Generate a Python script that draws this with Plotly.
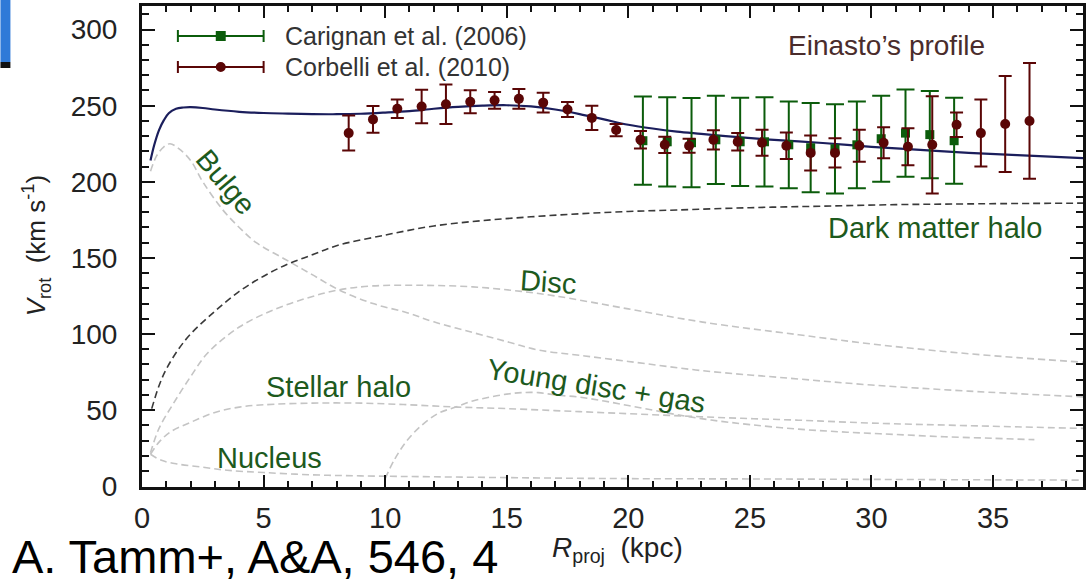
import plotly.graph_objects as go

# ---------------- data ----------------
# Einasto total rotation curve
R_model = [0.35, 0.5, 0.7, 0.9, 1.1, 1.4, 1.7, 2.0, 2.5, 3.0, 4.0, 5.0, 6.0, 7.0, 8.0, 9.0, 10.0, 11.0,
           12.0, 13.0, 14.0, 15.0, 16.0, 17.0, 18.0, 19.0, 20.0, 21.0, 22.0, 23.0, 24.0, 26.0, 28.0,
           30.0, 32.0, 34.0, 36.0, 38.7]
V_model = [214, 224, 234, 240.5, 245, 248, 248.8, 249, 248.5, 247.5, 246, 245.2, 244.8, 244.5, 244.4,
           244.7, 245.5, 246.5, 248, 249.2, 250, 250.3, 249.5, 247.5, 244.5, 241, 237.5, 235, 233,
           231.5, 230, 227.5, 225.5, 223, 221, 219, 217.5, 215.5]

# components
R_dm = [0.4, 0.7, 1.0, 1.5, 2.0, 3.0, 4.0, 5.0, 6.0, 7.0, 8.0, 10.0, 12.0, 14.0, 16.0, 18.0, 20.0, 22.0,
        25.0, 28.0, 31.0, 34.0, 38.7]
V_dm = [51, 66, 77, 90, 100, 115, 128, 138, 146, 152, 158, 165, 171, 174.5, 177, 179, 180.5, 181.5,
        183, 184, 185, 185.5, 186]

R_bulge = [0.35, 0.6, 0.9, 1.15, 1.5, 2.0, 2.5, 3.3, 4.0, 4.7, 5.9, 7.0, 8.1, 9.5, 10.9, 12.0, 13.6,
           15.0, 16.3, 18.0, 20.0, 23.0, 26.6, 30.0, 34.0, 38.7]
V_bulge = [207, 217, 223, 225, 222, 214, 200, 182, 170, 160, 149, 139, 129, 120, 114, 108, 101, 95,
           89.5, 86, 82, 76, 71, 66.5, 62.5, 58.7]

R_disc = [0.35, 0.7, 1.3, 2.0, 2.7, 4.0, 5.4, 6.8, 8.1, 9.5, 11.5, 13.6, 15.6, 17.0, 20.0, 23.0, 27.0,
          30.0, 33.0, 36.0, 38.7]
V_disc = [22, 38, 54.6, 72, 87.5, 104.6, 115.8, 123.7, 129, 131.6, 132, 131, 128, 125, 116.5, 108,
          99.5, 93.5, 88.5, 84.5, 81.5]

R_shalo = [0.35, 0.7, 1.2, 2.0, 3.0, 4.0, 5.0, 7.0, 9.0, 11.0, 13.0, 15.0, 18.0, 21.0, 24.0, 27.0,
           30.0, 34.0, 38.7]
V_shalo = [21, 29, 36, 42, 48.5, 52, 53.5, 54.6, 54.6, 53.5, 52, 51, 49, 47, 45, 43.4, 41.5, 39.8, 38]

R_young = [10.0, 10.4, 10.9, 11.5, 12.2, 12.9, 13.6, 14.3, 15.0, 15.6, 16.3, 17.0, 18.0, 19.0, 20.0,
           21.0, 22.0, 23.4, 25.0, 27.0, 29.0, 31.0, 33.0, 35.0, 36.7]
V_young = [5, 18, 30, 40, 48, 52, 56, 58.5, 60.5, 61.5, 61.5, 60, 58.5, 56, 53, 50, 47, 43.5, 40.5,
           37.5, 35.5, 34, 32.5, 31.5, 30.6]

R_nucleus = [0.35, 0.8, 1.5, 2.5, 3.5, 5.0, 7.0, 9.0, 12.0, 16.0, 20.0, 25.0, 30.0, 35.0, 38.7]
V_nucleus = [21, 17, 14.5, 12.5, 10.5, 9, 7.5, 6.8, 6.2, 5.5, 5, 4.8, 4.5, 4.2, 4]

# observations
R_corbelli = [8.5, 9.5, 10.5, 11.5, 12.5, 13.5, 14.5, 15.5, 16.5, 17.5, 18.5, 19.5, 20.5, 21.5, 22.5,
              23.5, 24.5, 25.5, 26.5, 27.5, 28.5, 29.5, 30.5, 31.5, 32.5, 33.5, 34.5, 35.5, 36.5]
V_corbelli = [232, 241, 248, 249.5, 251, 252.6, 253.5, 254.5, 252, 247.5, 242, 234, 227.6, 224.3, 223.7,
              227.6, 226.3, 225.7, 223.7, 219, 219, 223.7, 225.7, 223, 224.3, 237.5, 232, 238, 240]
E_corbelli = [11.5, 8.8, 6, 11, 13, 7.5, 5.5, 6.5, 6.5, 5, 8, 4, 5.7, 5.3, 4.6, 6.3, 5.8, 8.5, 8.7, 11.5,
              9.6, 10.5, 10.2, 12.2, 31.9, 8, 22, 31.5, 38]

R_carignan = [20.6, 21.6, 22.6, 23.6, 24.6, 25.6, 26.6, 27.5, 28.5, 29.4, 30.4, 31.4, 32.4, 33.4]
V_carignan = [227, 226.3, 225.7, 227.6, 226.3, 226.3, 224.3, 222.4, 221.7, 224.3, 228.3, 232, 231, 227]
E_carignan = [29, 29.3, 29.3, 29, 29, 29.3, 28.5, 29.3, 29.3, 28.5, 28.3, 28.7, 28.7, 28.3]

x_ticks = [0, 5, 10, 15, 20, 25, 30, 35]
y_ticks = [0, 50, 100, 150, 200, 250, 300]

# ---------------- styling ----------------
FONT = "Liberation Sans, Arial, Helvetica, sans-serif"
NARROW = "Liberation Sans Narrow, Arial Narrow, Liberation Sans, Arial, sans-serif"
GREEN_TXT = "#1d5a1d"
C_GREEN = "#0b5c0b"
C_RED = "#5a0606"
C_NAVY = "#1b1e5c"
C_LIGHT = "#c4c4c4"
C_DARK = "#3a3a3a"

W_FIG, H_FIG = 1088, 582
L, Rr, T, B = 142, 1086, 6, 487
PW, PH = Rr - L, B - T


def px(x):
    return (x - L) / PW


def py(y):
    return (B - y) / PH


fig = go.Figure()

dash_light = "7px,4px"
for rr, vv in [(R_bulge, V_bulge), (R_disc, V_disc), (R_shalo, V_shalo),
               (R_young, V_young), (R_nucleus, V_nucleus)]:
    fig.add_trace(go.Scatter(x=rr, y=vv, mode="lines", line=dict(color=C_LIGHT, width=1.6, dash=dash_light,
                                                                 shape="spline"),
                             showlegend=False, hoverinfo="skip"))
fig.add_trace(go.Scatter(x=R_dm, y=V_dm, mode="lines",
                         line=dict(color=C_DARK, width=1.6, dash="7px,4px", shape="spline"),
                         showlegend=False, hoverinfo="skip"))

fig.add_trace(go.Scatter(x=R_model, y=V_model, mode="lines",
                         line=dict(color=C_NAVY, width=2.2, shape="spline"), showlegend=False))

fig.add_trace(go.Scatter(x=R_carignan, y=V_carignan, mode="markers",
                         marker=dict(symbol="square", size=9, color=C_GREEN),
                         error_y=dict(type="data", array=E_carignan, color=C_GREEN, thickness=2, width=9),
                         showlegend=False))
fig.add_trace(go.Scatter(x=R_corbelli, y=V_corbelli, mode="markers",
                         marker=dict(symbol="circle", size=10, color=C_RED),
                         error_y=dict(type="data", array=E_corbelli, color=C_RED, thickness=2, width=6.5),
                         showlegend=False))

annotations = []
# component labels (data coordinates)
lab = dict(font=dict(family=FONT, size=29, color=GREEN_TXT), showarrow=False, xref="x", yref="y",
           xanchor="center", yanchor="middle")
annotations += [
    dict(text="Bulge", x=3.45, y=200, textangle=50, **lab),
    dict(text="Dark matter halo", x=32.6, y=169.5, **lab),
    dict(text="Disc", x=16.7, y=134, textangle=4, **lab),
    dict(text="Stellar halo", x=8.1, y=65, **lab),
    dict(text="Young disc + gas", x=18.7, y=66, textangle=9, **lab),
    dict(text="Nucleus", x=5.25, y=18.5, **lab),
    dict(text="Einasto\u2019s profile", x=30.6, y=289.5, showarrow=False, xref="x", yref="y",
         xanchor="center", yanchor="middle",
         font=dict(family=FONT, size=28, color="#4a2c2c")),
]

# legend (drawn manually)
shapes = []
leg_items = [("Carignan et al. (2006)", C_GREEN, "square", 36),
             ("Corbelli et al. (2010)", C_RED, "circle", 67)]
for name, col, sym, yy in leg_items:
    x0, x1, xm = 178, 264, 221
    shapes.append(dict(type="line", xref="paper", yref="paper", x0=px(x0), x1=px(x1), y0=py(yy), y1=py(yy),
                       line=dict(color=col, width=2)))
    for xe in (x0, x1):
        shapes.append(dict(type="line", xref="paper", yref="paper", x0=px(xe), x1=px(xe),
                           y0=py(yy - 6), y1=py(yy + 6), line=dict(color=col, width=2)))
    shapes.append(dict(type="rect" if sym == "square" else "circle", xref="paper", yref="paper",
                       x0=px(xm - 5), x1=px(xm + 5), y0=py(yy + 5), y1=py(yy - 5),
                       fillcolor=col, line=dict(color=col, width=0)))
    annotations.append(dict(text=name, xref="paper", yref="paper", x=px(283), y=py(yy), xanchor="left",
                            yanchor="middle", showarrow=False,
                            font=dict(family=FONT, size=25, color="#333333")))

# slide artefact (blue box at the top-left corner)
shapes.append(dict(type="rect", xref="paper", yref="paper", x0=px(0), x1=px(10), y0=py(0), y1=py(62),
                   fillcolor="#2f7ad8", line=dict(width=0), layer="above"))
shapes.append(dict(type="rect", xref="paper", yref="paper", x0=px(0), x1=px(10), y0=py(62), y1=py(68),
                   fillcolor="#111111", line=dict(width=0), layer="above"))

# axis titles and credit
annotations += [
    dict(text="<i>R</i><sub>proj</sub>  (kpc)", xref="paper", yref="paper", x=px(619), y=py(549),
         xanchor="center", yanchor="middle",
         showarrow=False, font=dict(family=FONT, size=28, color="#222")),
    dict(text="<i>V</i><sub>rot</sub>  (km s<sup>-1</sup>)", xref="paper", yref="paper", x=px(36),
         y=py(246), xanchor="center", yanchor="middle",
         textangle=-90, showarrow=False, font=dict(family=FONT, size=26, color="#222")),
    dict(text="A. Tamm+, A&A, 546, 4", xref="paper", yref="paper", x=px(10), y=py(556), xanchor="left",
         yanchor="middle", showarrow=False, font=dict(family=FONT, size=47, color="#000")),
]

axis_common = dict(showline=True, linecolor="#111", linewidth=3, mirror="allticks", ticks="inside",
                   tickcolor="#111", tickwidth=2, showgrid=False, zeroline=False)

fig.update_layout(
    width=W_FIG, height=H_FIG,
    margin=dict(l=L, r=W_FIG - Rr, t=T, b=H_FIG - B),
    paper_bgcolor="white", plot_bgcolor="white",
    showlegend=False,
    xaxis=dict(range=[0, 38.7], tickvals=x_ticks, ticklen=12,
               tickfont=dict(family=NARROW, size=29, color="#222"), ticklabelstandoff=3,
               minor=dict(dtick=1, ticklen=6, ticks="inside", tickcolor="#111", tickwidth=1.5),
               **axis_common),
    yaxis=dict(range=[-0.5, 315.5], tickvals=y_ticks, ticklen=13,
               tickfont=dict(family=FONT, size=28, color="#222"), ticklabelstandoff=16,
               minor=dict(dtick=10, ticklen=7, ticks="inside", tickcolor="#111", tickwidth=1.5),
               **axis_common),
    annotations=annotations,
    shapes=shapes,
)

fig.write_html("out.html")
